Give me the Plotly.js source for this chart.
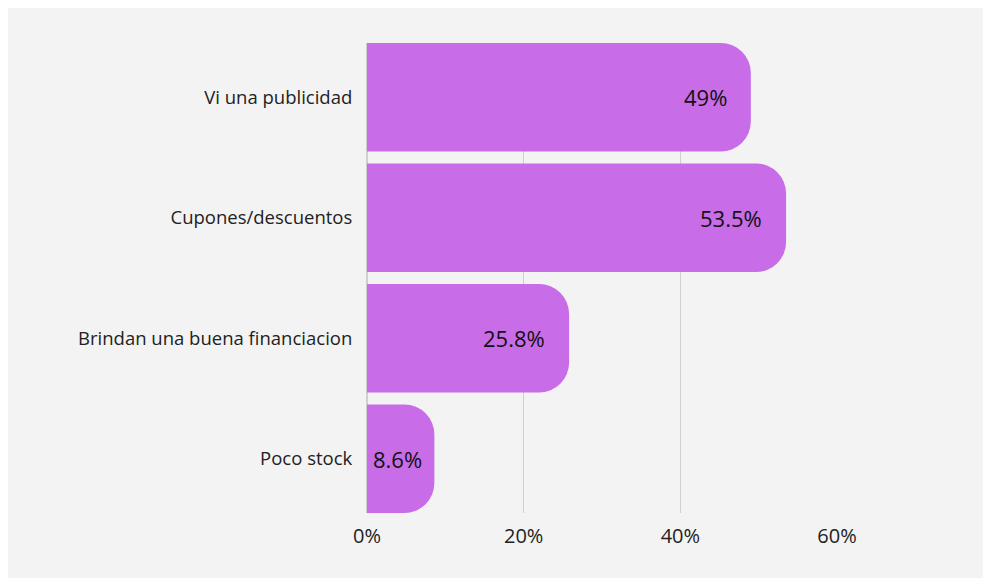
<!DOCTYPE html>
<html>
<head>
<meta charset="utf-8">
<script src="https://cdn.plot.ly/plotly-3.0.1.min.js"></script>
<style>
html,body{margin:0;padding:0;background:#ffffff;}
#chart{position:absolute;left:8px;top:8px;width:975px;height:570px;}
</style>
</head>
<body>
<div id="chart"></div>
<script>
const categories = ["Vi una publicidad", "Cupones/descuentos", "Brindan una buena financiacion", "Poco stock"];
const values = [49, 53.5, 25.8, 8.6];
const labels = ["49%", "53.5%", "25.8%", "8.6%"];
const tickVals = [0, 20, 40, 60];
const tickText = ["0%", "20%", "40%", "60%"];

const trace = {
  type: 'bar',
  orientation: 'h',
  y: categories,
  x: values,
  textposition: 'none',
  marker: {color: '#c86ce8', cornerradius: 30, line: {width: 0}},
  hoverinfo: 'none'
};

const annotations = values.map((v, i) => ({
  x: v,
  y: categories[i],
  xref: 'x',
  yref: 'y',
  text: labels[i],
  showarrow: false,
  xanchor: 'right',
  yanchor: 'middle',
  xshift: v < 15 ? -10 : -22,
  font: {family: 'Open Sans, Noto Sans, sans-serif', size: 22, color: '#111111'}
}));

const layout = {
  width: 975,
  height: 570,
  paper_bgcolor: '#f3f3f3',
  plot_bgcolor: '#f3f3f3',
  margin: {l: 359, r: 146, t: 35, b: 65},
  bargap: 0.1,
  showlegend: false,
  annotations: annotations,
  font: {family: 'Open Sans, Noto Sans, sans-serif', size: 18.5, color: '#222222'},
  xaxis: {
    range: [0, 60],
    tickvals: tickVals,
    ticktext: tickText,
    showgrid: true,
    gridcolor: '#cfcfcf',
    gridwidth: 1.5,
    zeroline: true,
    zerolinecolor: '#cfcfcf',
    zerolinewidth: 1.5,
    showline: false,
    ticks: 'outside',
    ticklen: 5,
    tickcolor: 'rgba(0,0,0,0)',
    tickfont: {size: 20, color: '#222222'},
    fixedrange: true
  },
  yaxis: {
    range: [3.45, -0.45],
    showgrid: false,
    zeroline: false,
    showline: false,
    ticks: 'outside',
    ticklen: 10,
    tickcolor: 'rgba(0,0,0,0)',
    tickfont: {size: 18.5, color: '#222222'},
    fixedrange: true
  }
};

Plotly.newPlot('chart', [trace], layout, {displayModeBar: false, staticPlot: true});
</script>
</body>
</html>
